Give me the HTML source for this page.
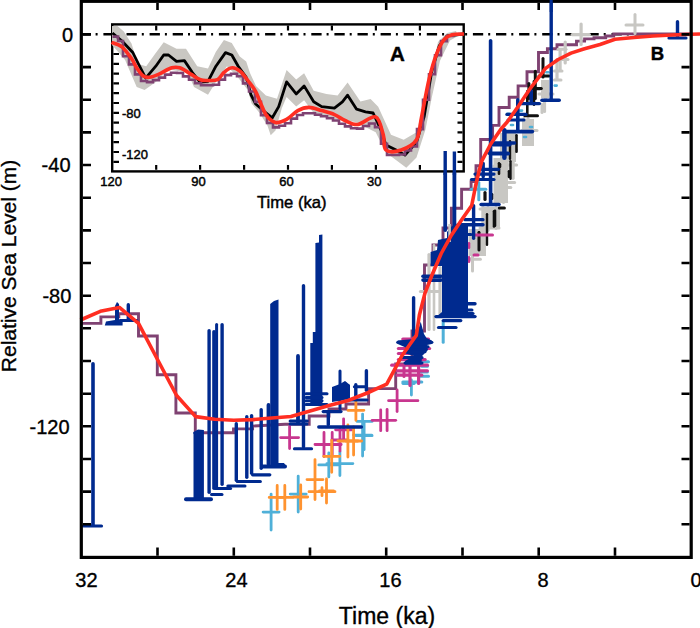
<!DOCTYPE html><html><head><meta charset="utf-8"><style>html,body{margin:0;padding:0;background:#fff;width:700px;height:628px;overflow:hidden;position:relative}</style></head><body><svg width="700" height="628" viewBox="0 0 700 628" style="position:absolute;left:0;top:0">
<rect width="700" height="628" fill="#fff"/>
<line x1="463" y1="34.3" x2="691" y2="34.3" stroke="#000" stroke-width="2.6" stroke-dasharray="10.3 5 2 5.8" stroke-dashoffset="13.2"/>
<polyline points="80.0,323.4 100.9,323.4 100.9,316.9 118.8,316.9 118.8,313.8 138.5,313.8 138.5,336.0 157.3,336.0 157.3,374.8 175.9,374.8 175.9,413.0 195.3,413.0 195.3,432.7 233.5,432.7 233.5,428.9 252.6,428.9 252.6,426.1 285.0,424.3 309.2,424.3 309.2,416.0 329.0,416.0 329.0,409.0 346.0,409.0 346.0,404.0 368.6,404.0 368.6,388.6 395.7,388.6 395.7,364.0 412.0,364.0 412.0,331.0 424.5,331.0 424.5,265.0 433.0,265.0 433.0,245.0 443.0,245.0 443.0,228.0 451.4,228.0 451.4,208.3 461.6,208.3 461.6,189.2 471.1,189.2 471.1,181.6 476.0,181.6 476.0,165.7 480.7,165.7 480.7,139.5 492.6,139.5 492.6,125.4 499.0,125.4 499.0,107.5 509.2,107.5 509.2,97.3 518.1,97.3 518.1,85.9 527.0,85.9 527.0,71.8 538.5,71.8 538.5,52.5 547.4,52.5 547.4,48.7 557.0,48.7 557.0,44.8 576.5,44.8 576.5,41.1 584.6,41.1 584.6,38.9 594.0,38.9 594.0,37.7 605.7,37.7 605.7,36.0 613.7,36.0 613.7,33.9 691.0,33.9" fill="none" stroke="#7f4272" stroke-width="2.9"/>
<rect x="470.2" y="229.3" width="15.3" height="21.7" fill="#c8c7c3"/>
<rect x="493.5" y="158" width="14.5" height="45.0" fill="#c8c7c3"/>
<rect x="482" y="207" width="18.0" height="21.0" fill="#c8c7c3"/>
<rect x="468.5" y="229" width="17.5" height="27.0" fill="#c8c7c3"/>
<rect x="500" y="133" width="16.0" height="27.0" fill="#c8c7c3"/>
<rect x="522" y="119" width="12.0" height="27.0" fill="#c8c7c3"/>
<rect x="503" y="133" width="13.0" height="29.0" fill="#c8c7c3"/>
<rect x="541" y="80" width="8.0" height="18.0" fill="#c8c7c3"/>
<line x1="429" y1="254.6" x2="429" y2="329.4" stroke="#c8c7c3" stroke-width="3.2" stroke-linecap="round"/>
<line x1="434" y1="245.3" x2="434" y2="329.7" stroke="#c8c7c3" stroke-width="2.6" stroke-linecap="round"/>
<line x1="440" y1="267.6" x2="440" y2="316.4" stroke="#c8c7c3" stroke-width="3.2" stroke-linecap="round"/>
<line x1="420.4" y1="291.6" x2="439.5" y2="291.6" stroke="#c8c7c3" stroke-width="3" stroke-linecap="round"/>
<line x1="472.5" y1="244.5" x2="472.5" y2="271.1" stroke="#c8c7c3" stroke-width="3" stroke-linecap="round"/>
<line x1="469" y1="259.2" x2="480.4" y2="259.2" stroke="#c8c7c3" stroke-width="3" stroke-linecap="round"/>
<line x1="483" y1="207.7" x2="483" y2="228.3" stroke="#c8c7c3" stroke-width="3.4" stroke-linecap="round"/>
<line x1="488" y1="207.7" x2="488" y2="230.3" stroke="#c8c7c3" stroke-width="3.4" stroke-linecap="round"/>
<line x1="496" y1="207.7" x2="496" y2="228.3" stroke="#c8c7c3" stroke-width="3.4" stroke-linecap="round"/>
<line x1="480" y1="209" x2="499" y2="209" stroke="#c8c7c3" stroke-width="3" stroke-linecap="round"/>
<line x1="480" y1="228" x2="499" y2="228" stroke="#c8c7c3" stroke-width="3" stroke-linecap="round"/>
<line x1="497" y1="161.7" x2="497" y2="202.3" stroke="#c8c7c3" stroke-width="3.4" stroke-linecap="round"/>
<line x1="503.5" y1="161.7" x2="503.5" y2="202.3" stroke="#c8c7c3" stroke-width="3.4" stroke-linecap="round"/>
<line x1="494" y1="166" x2="507" y2="166" stroke="#c8c7c3" stroke-width="3" stroke-linecap="round"/>
<line x1="499.3" y1="182.5" x2="514.6" y2="182.5" stroke="#c8c7c3" stroke-width="3" stroke-linecap="round"/>
<line x1="499.3" y1="187.5" x2="510.8" y2="187.5" stroke="#c8c7c3" stroke-width="3" stroke-linecap="round"/>
<line x1="528" y1="118.7" x2="528" y2="143.3" stroke="#c8c7c3" stroke-width="3.4" stroke-linecap="round"/>
<line x1="524" y1="118.5" x2="524" y2="138.5" stroke="#c8c7c3" stroke-width="3" stroke-linecap="round"/>
<line x1="522" y1="130.6" x2="537" y2="130.6" stroke="#c8c7c3" stroke-width="3" stroke-linecap="round"/>
<line x1="544.5" y1="102.6" x2="544.5" y2="111.4" stroke="#c8c7c3" stroke-width="3.2" stroke-linecap="round"/>
<line x1="507" y1="134.7" x2="507" y2="178.3" stroke="#c8c7c3" stroke-width="3.4" stroke-linecap="round"/>
<line x1="513" y1="134.7" x2="513" y2="178.3" stroke="#c8c7c3" stroke-width="3.4" stroke-linecap="round"/>
<line x1="503.8" y1="150" x2="516.6" y2="150" stroke="#c8c7c3" stroke-width="3" stroke-linecap="round"/>
<line x1="503.8" y1="165" x2="516.6" y2="165" stroke="#c8c7c3" stroke-width="3" stroke-linecap="round"/>
<line x1="545.5" y1="81.7" x2="545.5" y2="98.3" stroke="#c8c7c3" stroke-width="3.4" stroke-linecap="round"/>
<line x1="539" y1="93.9" x2="553" y2="93.9" stroke="#c8c7c3" stroke-width="3" stroke-linecap="round"/>
<line x1="542" y1="104.5" x2="542" y2="112.5" stroke="#c8c7c3" stroke-width="3" stroke-linecap="round"/>
<line x1="581.1" y1="24.1" x2="581.1" y2="44.5" stroke="#c8c7c3" stroke-width="3.2" stroke-linecap="round"/>
<line x1="572.2" y1="34.6" x2="589.4" y2="34.6" stroke="#c8c7c3" stroke-width="3.2" stroke-linecap="round"/>
<line x1="565.2" y1="42.0" x2="565.2" y2="63.0" stroke="#c8c7c3" stroke-width="3.2" stroke-linecap="round"/>
<line x1="558" y1="59.5" x2="568" y2="59.5" stroke="#c8c7c3" stroke-width="3" stroke-linecap="round"/>
<line x1="558" y1="49.3" x2="566" y2="49.3" stroke="#c8c7c3" stroke-width="3" stroke-linecap="round"/>
<line x1="560.1" y1="49.6" x2="560.1" y2="69.4" stroke="#c8c7c3" stroke-width="3.2" stroke-linecap="round"/>
<line x1="557" y1="59.6" x2="557" y2="79.4" stroke="#c8c7c3" stroke-width="3.2" stroke-linecap="round"/>
<line x1="554.4" y1="71" x2="562" y2="71" stroke="#c8c7c3" stroke-width="3" stroke-linecap="round"/>
<line x1="554.4" y1="80" x2="561" y2="80" stroke="#c8c7c3" stroke-width="3" stroke-linecap="round"/>
<line x1="635" y1="14.5" x2="635" y2="33.5" stroke="#c8c7c3" stroke-width="3" stroke-linecap="round"/>
<line x1="626" y1="25" x2="643" y2="25" stroke="#c8c7c3" stroke-width="3" stroke-linecap="round"/>
<line x1="527.3" y1="91.3" x2="527.3" y2="115.7" stroke="#111" stroke-width="2.6" stroke-linecap="round"/>
<line x1="534" y1="81.3" x2="534" y2="104.7" stroke="#111" stroke-width="2.6" stroke-linecap="round"/>
<line x1="524.8" y1="115.7" x2="537.5" y2="115.7" stroke="#111" stroke-width="3" stroke-linecap="round"/>
<line x1="533.7" y1="88.5" x2="541.3" y2="88.5" stroke="#111" stroke-width="3" stroke-linecap="round"/>
<line x1="543" y1="58.5" x2="543" y2="77.1" stroke="#111" stroke-width="3" stroke-linecap="round"/>
<line x1="539" y1="76" x2="549" y2="76" stroke="#111" stroke-width="3" stroke-linecap="round"/>
<line x1="535.3" y1="71.2" x2="535.3" y2="98.5" stroke="#111" stroke-width="3" stroke-linecap="round"/>
<line x1="528.9" y1="83.5" x2="528.9" y2="98.5" stroke="#111" stroke-width="3" stroke-linecap="round"/>
<line x1="530" y1="88.8" x2="540" y2="88.8" stroke="#111" stroke-width="3" stroke-linecap="round"/>
<line x1="516.5" y1="135.3" x2="516.5" y2="151.7" stroke="#111" stroke-width="2.6" stroke-linecap="round"/>
<line x1="509" y1="171.3" x2="509" y2="176.7" stroke="#111" stroke-width="2.6" stroke-linecap="round"/>
<line x1="500" y1="164.3" x2="500" y2="166.7" stroke="#111" stroke-width="2.6" stroke-linecap="round"/>
<line x1="509.3" y1="172.9" x2="509.3" y2="176.7" stroke="#111" stroke-width="2.6" stroke-linecap="round"/>
<line x1="485" y1="192.6" x2="485" y2="199.4" stroke="#111" stroke-width="3.2" stroke-linecap="round"/>
<line x1="495" y1="210.8" x2="495" y2="225.7" stroke="#111" stroke-width="2.6" stroke-linecap="round"/>
<line x1="479" y1="232.3" x2="479" y2="250.3" stroke="#111" stroke-width="2.6" stroke-linecap="round"/>
<line x1="499" y1="163.3" x2="499" y2="173.7" stroke="#111" stroke-width="2.6" stroke-linecap="round"/>
<line x1="510.5" y1="161.2" x2="510.5" y2="178.8" stroke="#111" stroke-width="2.4" stroke-linecap="round"/>
<line x1="494" y1="211.3" x2="494" y2="226.4" stroke="#111" stroke-width="2.6" stroke-linecap="round"/>
<line x1="499.3" y1="208" x2="504.4" y2="208" stroke="#111" stroke-width="3" stroke-linecap="round"/>
<line x1="487" y1="214.2" x2="487" y2="244.8" stroke="#111" stroke-width="2.4" stroke-linecap="round"/>
<line x1="479" y1="232.3" x2="479" y2="249.7" stroke="#111" stroke-width="2.6" stroke-linecap="round"/>
<line x1="510" y1="141.2" x2="510" y2="158.8" stroke="#111" stroke-width="2.4" stroke-linecap="round"/>
<line x1="492" y1="194.3" x2="492" y2="198.7" stroke="#111" stroke-width="2.6" stroke-linecap="round"/>
<line x1="478.8" y1="182.5" x2="478.8" y2="199.8" stroke="#4fb0d8" stroke-width="3" stroke-linecap="round"/>
<line x1="471.1" y1="189.2" x2="485.8" y2="189.2" stroke="#4fb0d8" stroke-width="3" stroke-linecap="round"/>
<line x1="443.2" y1="321.5" x2="443.2" y2="342.2" stroke="#4fb0d8" stroke-width="3" stroke-linecap="round"/>
<line x1="507.2" y1="113.8" x2="509.2" y2="113.8" stroke="#4fb0d8" stroke-width="2.6" stroke-linecap="round"/>
<line x1="520" y1="110.6" x2="522" y2="110.6" stroke="#4fb0d8" stroke-width="2.6" stroke-linecap="round"/>
<line x1="530" y1="127" x2="532" y2="127" stroke="#4fb0d8" stroke-width="2.6" stroke-linecap="round"/>
<line x1="546.4" y1="72.2" x2="548.4" y2="72.2" stroke="#4fb0d8" stroke-width="2.6" stroke-linecap="round"/>
<line x1="554.7" y1="85.6" x2="556.7" y2="85.6" stroke="#4fb0d8" stroke-width="2.6" stroke-linecap="round"/>
<line x1="524" y1="137" x2="526" y2="137" stroke="#4fb0d8" stroke-width="2.6" stroke-linecap="round"/>
<line x1="511" y1="125" x2="513" y2="125" stroke="#4fb0d8" stroke-width="2.6" stroke-linecap="round"/>
<line x1="411.4" y1="380.0" x2="411.4" y2="395.0" stroke="#4fb0d8" stroke-width="2.8" stroke-linecap="round"/>
<line x1="402.9" y1="383.6" x2="414.3" y2="383.6" stroke="#4fb0d8" stroke-width="2.8" stroke-linecap="round"/>
<line x1="423" y1="361.8" x2="428.5" y2="361.8" stroke="#4fb0d8" stroke-width="3" stroke-linecap="round"/>
<line x1="421.8" y1="366.3" x2="427.4" y2="366.3" stroke="#4fb0d8" stroke-width="3" stroke-linecap="round"/>
<line x1="420.7" y1="371.9" x2="427.4" y2="371.9" stroke="#4fb0d8" stroke-width="3" stroke-linecap="round"/>
<line x1="419.6" y1="376.3" x2="428.5" y2="376.3" stroke="#4fb0d8" stroke-width="3" stroke-linecap="round"/>
<line x1="402.8" y1="382" x2="421.8" y2="382" stroke="#4fb0d8" stroke-width="3" stroke-linecap="round"/>
<line x1="357.1" y1="421.4" x2="372.1" y2="421.4" stroke="#4fb0d8" stroke-width="2.8" stroke-linecap="round"/>
<path d="M263.1 512.1H279.1M271.1 494.1V530.1" stroke="#4fb0d8" stroke-width="2.8" stroke-linecap="round" fill="none"/>
<path d="M290.2 494.1H306.2M298.2 476.1V512.1" stroke="#4fb0d8" stroke-width="2.8" stroke-linecap="round" fill="none"/>
<path d="M318.8 464.9H338.8M328.8 452.9V476.9" stroke="#4fb0d8" stroke-width="2.8" stroke-linecap="round" fill="none"/>
<path d="M326.9 463.6H352.9M339.9 451.6V475.6" stroke="#4fb0d8" stroke-width="2.8" stroke-linecap="round" fill="none"/>
<path d="M353.6 435.1H371.6M362.6 414.1V456.1" stroke="#4fb0d8" stroke-width="2.8" stroke-linecap="round" fill="none"/>
<path d="M356.1 435.7H372.1M364.1 421.7V449.7" stroke="#4fb0d8" stroke-width="2.8" stroke-linecap="round" fill="none"/>
<line x1="474" y1="235" x2="492.5" y2="235" stroke="#c8368f" stroke-width="3" stroke-linecap="round"/>
<line x1="469" y1="243.3" x2="469" y2="247.7" stroke="#c8368f" stroke-width="2.6" stroke-linecap="round"/>
<line x1="469" y1="257.3" x2="469" y2="261.7" stroke="#c8368f" stroke-width="2.6" stroke-linecap="round"/>
<line x1="474" y1="255" x2="478" y2="255" stroke="#c8368f" stroke-width="3" stroke-linecap="round"/>
<line x1="402.8" y1="339" x2="428.5" y2="339" stroke="#c8368f" stroke-width="3.2" stroke-linecap="round"/>
<line x1="398.4" y1="348.5" x2="429.6" y2="348.5" stroke="#c8368f" stroke-width="3.2" stroke-linecap="round"/>
<line x1="398.4" y1="353.5" x2="411.8" y2="353.5" stroke="#c8368f" stroke-width="3.2" stroke-linecap="round"/>
<line x1="398.4" y1="359.6" x2="425.1" y2="359.6" stroke="#c8368f" stroke-width="3.2" stroke-linecap="round"/>
<line x1="391.7" y1="365.2" x2="427.4" y2="365.2" stroke="#c8368f" stroke-width="3.2" stroke-linecap="round"/>
<line x1="397.3" y1="370.8" x2="427.4" y2="370.8" stroke="#c8368f" stroke-width="3.2" stroke-linecap="round"/>
<line x1="397.3" y1="375.2" x2="421.8" y2="375.2" stroke="#c8368f" stroke-width="3.2" stroke-linecap="round"/>
<line x1="410" y1="366.6" x2="410" y2="385.4" stroke="#c8368f" stroke-width="3.2" stroke-linecap="round"/>
<line x1="418.6" y1="366.6" x2="418.6" y2="383.4" stroke="#c8368f" stroke-width="3.2" stroke-linecap="round"/>
<line x1="404" y1="366.5" x2="404" y2="376.5" stroke="#c8368f" stroke-width="3" stroke-linecap="round"/>
<line x1="380.7" y1="410.0" x2="380.7" y2="430.7" stroke="#c8368f" stroke-width="2.8" stroke-linecap="round"/>
<line x1="387.1" y1="409.4" x2="387.1" y2="430.7" stroke="#c8368f" stroke-width="2.8" stroke-linecap="round"/>
<line x1="372.1" y1="420.3" x2="395.7" y2="420.3" stroke="#c8368f" stroke-width="2.8" stroke-linecap="round"/>
<line x1="397.1" y1="390.0" x2="397.1" y2="411.5" stroke="#c8368f" stroke-width="2.8" stroke-linecap="round"/>
<line x1="388.6" y1="400.7" x2="417.9" y2="400.7" stroke="#c8368f" stroke-width="2.8" stroke-linecap="round"/>
<path d="M280.6 437.6H298.6M289.6 426.6V448.6" stroke="#c8368f" stroke-width="2.8" stroke-linecap="round" fill="none"/>
<path d="M315.0 444.5H333.0M324.0 432.5V456.5" stroke="#c8368f" stroke-width="2.8" stroke-linecap="round" fill="none"/>
<path d="M323.2 444.5H341.2M332.2 432.5V456.5" stroke="#c8368f" stroke-width="2.8" stroke-linecap="round" fill="none"/>
<path d="M332.0 440.0H348.0M340.0 429.0V451.0" stroke="#c8368f" stroke-width="2.8" stroke-linecap="round" fill="none"/>
<path d="M335.6 429.8H351.6M343.6 418.8V440.8" stroke="#c8368f" stroke-width="2.8" stroke-linecap="round" fill="none"/>
<path d="M269.2 497.4H285.2M277.2 485.4V509.4" stroke="#ff9330" stroke-width="2.8" stroke-linecap="round" fill="none"/>
<path d="M276.8 497.4H292.8M284.8 485.4V509.4" stroke="#ff9330" stroke-width="2.8" stroke-linecap="round" fill="none"/>
<path d="M293.7 497.0H307.7M300.7 485.0V509.0" stroke="#ff9330" stroke-width="2.8" stroke-linecap="round" fill="none"/>
<path d="M307.0 479.6H323.0M315.0 459.6V499.6" stroke="#ff9330" stroke-width="2.8" stroke-linecap="round" fill="none"/>
<path d="M309.0 491.7H335.0M322.0 487.7V495.7" stroke="#ff9330" stroke-width="2.8" stroke-linecap="round" fill="none"/>
<path d="M319.5 491.0H333.5M326.5 479.0V503.0" stroke="#ff9330" stroke-width="2.8" stroke-linecap="round" fill="none"/>
<path d="M323.7 456.3H339.7M331.7 440.3V472.3" stroke="#ff9330" stroke-width="2.8" stroke-linecap="round" fill="none"/>
<path d="M337.9 441.0H357.9M347.9 425.0V457.0" stroke="#ff9330" stroke-width="2.8" stroke-linecap="round" fill="none"/>
<path d="M345.6 441.0H361.6M353.6 427.0V455.0" stroke="#ff9330" stroke-width="2.8" stroke-linecap="round" fill="none"/>
<path d="M347.9 410.3H363.9M355.9 400.3V420.3" stroke="#ff9330" stroke-width="2.8" stroke-linecap="round" fill="none"/>
<rect x="193.5" y="432" width="10.4" height="67.0" fill="#002a8f"/>
<polygon points="115.0,306.0 117.0,302.0 119.0,304.0 119.0,321.0 122.6,322.0 122.6,325.5 104.8,325.5 106.0,321.5 115.0,320.0" fill="#002a8f"/>
<polygon points="193.5,432.0 198.0,429.5 203.9,430.0 203.9,434.0 193.5,434.0" fill="#002a8f"/>
<polygon points="270.2,304.0 274.0,301.0 278.5,299.5 278.5,463.0 284.0,463.0 286.0,466.0 270.2,468.0" fill="#002a8f"/>
<polygon points="310.3,343.0 312.8,343.0 312.8,332.0 315.4,332.0 315.4,243.0 319.0,242.5 319.0,235.0 322.4,234.5 322.4,403.0 310.3,403.0" fill="#002a8f"/>
<polygon points="332.0,387.0 340.0,384.0 345.0,381.0 350.0,385.0 350.0,399.0 332.0,402.0" fill="#002a8f"/>
<polygon points="447.0,232.0 452.0,226.0 458.0,223.0 468.0,223.0 468.0,317.0 436.0,317.0 442.0,312.0 442.0,266.0 430.6,266.0 430.6,252.0 437.0,250.0 438.0,240.0 447.0,238.0" fill="#002a8f"/>
<polygon points="420.7,321.7 424.0,334.0 426.5,338.0 431.8,340.5 431.8,344.0 427.0,345.0 428.0,350.0 425.0,353.0 422.0,356.0 421.5,364.5 405.0,364.5 405.0,361.0 414.0,356.0 404.0,353.0 409.0,349.0 397.8,344.0 397.8,340.5 414.0,339.0 417.0,334.0" fill="#002a8f"/>
<line x1="93" y1="363.8" x2="93" y2="524.2" stroke="#002a8f" stroke-width="3.6" stroke-linecap="round"/>
<line x1="83.5" y1="526" x2="101.5" y2="526" stroke="#002a8f" stroke-width="3.2" stroke-linecap="round"/>
<line x1="128.3" y1="304.7" x2="128.3" y2="318.3" stroke="#002a8f" stroke-width="3.4" stroke-linecap="round"/>
<line x1="120" y1="320.5" x2="136.6" y2="320.5" stroke="#002a8f" stroke-width="3" stroke-linecap="round"/>
<line x1="209.1" y1="330.7" x2="209.1" y2="492.3" stroke="#002a8f" stroke-width="3.4" stroke-linecap="round"/>
<line x1="214" y1="331.8" x2="214" y2="488.2" stroke="#002a8f" stroke-width="3.6" stroke-linecap="round"/>
<line x1="216.6" y1="324.5" x2="216.6" y2="486.5" stroke="#002a8f" stroke-width="3.0" stroke-linecap="round"/>
<line x1="222.1" y1="324.7" x2="222.1" y2="484.3" stroke="#002a8f" stroke-width="3.4" stroke-linecap="round"/>
<line x1="186" y1="499.3" x2="211" y2="499.3" stroke="#002a8f" stroke-width="4" stroke-linecap="round"/>
<line x1="211.5" y1="494.5" x2="222" y2="494.5" stroke="#002a8f" stroke-width="3" stroke-linecap="round"/>
<line x1="215.4" y1="488.5" x2="230.6" y2="488.5" stroke="#002a8f" stroke-width="3" stroke-linecap="round"/>
<line x1="227.8" y1="486" x2="245" y2="486" stroke="#002a8f" stroke-width="3" stroke-linecap="round"/>
<line x1="236.3" y1="423.7" x2="236.3" y2="480.3" stroke="#002a8f" stroke-width="3.4" stroke-linecap="round"/>
<line x1="246.8" y1="416.7" x2="246.8" y2="477.3" stroke="#002a8f" stroke-width="3.4" stroke-linecap="round"/>
<line x1="251.6" y1="415.7" x2="251.6" y2="473.3" stroke="#002a8f" stroke-width="3.4" stroke-linecap="round"/>
<line x1="261.2" y1="409.7" x2="261.2" y2="468.3" stroke="#002a8f" stroke-width="3.4" stroke-linecap="round"/>
<line x1="237.3" y1="481.5" x2="260.3" y2="481.5" stroke="#002a8f" stroke-width="3.2" stroke-linecap="round"/>
<line x1="252.6" y1="474.8" x2="269.8" y2="474.8" stroke="#002a8f" stroke-width="3.2" stroke-linecap="round"/>
<line x1="262.2" y1="466.5" x2="285" y2="466.5" stroke="#002a8f" stroke-width="4" stroke-linecap="round"/>
<line x1="298" y1="355.9" x2="298" y2="423.1" stroke="#002a8f" stroke-width="3.8" stroke-linecap="round"/>
<line x1="268.5" y1="404.9" x2="268.5" y2="464.1" stroke="#002a8f" stroke-width="3.8" stroke-linecap="round"/>
<line x1="303.5" y1="285.7" x2="303.5" y2="446.8" stroke="#002a8f" stroke-width="3.4" stroke-linecap="round"/>
<line x1="294.4" y1="448.7" x2="311.6" y2="448.7" stroke="#002a8f" stroke-width="3" stroke-linecap="round"/>
<line x1="306" y1="393.8" x2="327" y2="393.8" stroke="#002a8f" stroke-width="3" stroke-linecap="round"/>
<line x1="306" y1="397.5" x2="322" y2="397.5" stroke="#002a8f" stroke-width="3" stroke-linecap="round"/>
<line x1="306" y1="400.8" x2="322" y2="400.8" stroke="#002a8f" stroke-width="3" stroke-linecap="round"/>
<line x1="306" y1="404.6" x2="327" y2="404.6" stroke="#002a8f" stroke-width="3" stroke-linecap="round"/>
<line x1="340" y1="371.1" x2="340" y2="408.5" stroke="#002a8f" stroke-width="3.0" stroke-linecap="round"/>
<line x1="348" y1="400" x2="367" y2="400" stroke="#002a8f" stroke-width="3.2" stroke-linecap="round"/>
<line x1="345" y1="383.4" x2="345" y2="388.3" stroke="#002a8f" stroke-width="3.4" stroke-linecap="round"/>
<line x1="348" y1="385.7" x2="348" y2="388.3" stroke="#002a8f" stroke-width="3.4" stroke-linecap="round"/>
<line x1="355.8" y1="384.7" x2="355.8" y2="398.3" stroke="#002a8f" stroke-width="3.4" stroke-linecap="round"/>
<line x1="354.4" y1="386.8" x2="365" y2="386.8" stroke="#002a8f" stroke-width="3" stroke-linecap="round"/>
<line x1="366.4" y1="370.7" x2="366.4" y2="390.3" stroke="#002a8f" stroke-width="3.4" stroke-linecap="round"/>
<line x1="323.2" y1="411.6" x2="341" y2="411.6" stroke="#002a8f" stroke-width="3.2" stroke-linecap="round"/>
<line x1="328.3" y1="413.3" x2="328.3" y2="424.5" stroke="#002a8f" stroke-width="3.4" stroke-linecap="round"/>
<line x1="318.8" y1="427" x2="361.4" y2="427" stroke="#002a8f" stroke-width="3.4" stroke-linecap="round"/>
<line x1="290.1" y1="421.1" x2="307.3" y2="421.1" stroke="#002a8f" stroke-width="3" stroke-linecap="round"/>
<line x1="290.1" y1="423.9" x2="307" y2="423.9" stroke="#002a8f" stroke-width="3" stroke-linecap="round"/>
<line x1="413.6" y1="297.7" x2="413.6" y2="335.3" stroke="#002a8f" stroke-width="3.4" stroke-linecap="round"/>
<line x1="423" y1="276.3" x2="441" y2="276.3" stroke="#002a8f" stroke-width="3.6" stroke-linecap="round"/>
<line x1="423" y1="280.1" x2="441" y2="280.1" stroke="#002a8f" stroke-width="3.6" stroke-linecap="round"/>
<line x1="450" y1="303.7" x2="475" y2="303.7" stroke="#002a8f" stroke-width="3.4" stroke-linecap="round"/>
<line x1="450" y1="310" x2="472" y2="310" stroke="#002a8f" stroke-width="3" stroke-linecap="round"/>
<line x1="450" y1="313.5" x2="473" y2="313.5" stroke="#002a8f" stroke-width="3.2" stroke-linecap="round"/>
<line x1="436" y1="316.6" x2="475" y2="316.6" stroke="#002a8f" stroke-width="3.4" stroke-linecap="round"/>
<line x1="443.2" y1="320.6" x2="460.8" y2="320.6" stroke="#002a8f" stroke-width="3.2" stroke-linecap="round"/>
<line x1="438.5" y1="327.5" x2="456" y2="327.5" stroke="#002a8f" stroke-width="3.2" stroke-linecap="round"/>
<line x1="445.2" y1="172.9" x2="445.2" y2="230.1" stroke="#002a8f" stroke-width="3.8" stroke-linecap="round"/>
<line x1="454.4" y1="172.9" x2="454.4" y2="230.1" stroke="#002a8f" stroke-width="3.8" stroke-linecap="round"/>
<line x1="473.6" y1="205.7" x2="473.6" y2="238.3" stroke="#002a8f" stroke-width="3.4" stroke-linecap="round"/>
<line x1="465" y1="219.7" x2="483" y2="219.7" stroke="#002a8f" stroke-width="3.2" stroke-linecap="round"/>
<line x1="460" y1="224.8" x2="483" y2="224.8" stroke="#002a8f" stroke-width="3.4" stroke-linecap="round"/>
<line x1="463.5" y1="234.4" x2="471" y2="234.4" stroke="#002a8f" stroke-width="3" stroke-linecap="round"/>
<line x1="490.6" y1="40.8" x2="490.6" y2="203.2" stroke="#002a8f" stroke-width="3.6" stroke-linecap="round"/>
<line x1="481.1" y1="204.5" x2="499" y2="204.5" stroke="#002a8f" stroke-width="3.6" stroke-linecap="round"/>
<line x1="482" y1="169.3" x2="498.5" y2="169.3" stroke="#002a8f" stroke-width="3.2" stroke-linecap="round"/>
<line x1="475" y1="174.1" x2="494" y2="174.1" stroke="#002a8f" stroke-width="3.2" stroke-linecap="round"/>
<line x1="471.5" y1="179.5" x2="494" y2="179.5" stroke="#002a8f" stroke-width="3.2" stroke-linecap="round"/>
<line x1="483.2" y1="163.5" x2="483.2" y2="176.7" stroke="#002a8f" stroke-width="3.4" stroke-linecap="round"/>
<line x1="489" y1="153.2" x2="508.2" y2="153.2" stroke="#002a8f" stroke-width="3.4" stroke-linecap="round"/>
<line x1="493" y1="144.8" x2="510" y2="144.8" stroke="#002a8f" stroke-width="3.2" stroke-linecap="round"/>
<line x1="517.8" y1="99.8" x2="517.8" y2="130.2" stroke="#002a8f" stroke-width="3.6" stroke-linecap="round"/>
<line x1="521" y1="103.6" x2="539.4" y2="103.6" stroke="#002a8f" stroke-width="3.4" stroke-linecap="round"/>
<line x1="507" y1="114.4" x2="526" y2="114.4" stroke="#002a8f" stroke-width="3.4" stroke-linecap="round"/>
<line x1="508" y1="120" x2="524" y2="120" stroke="#002a8f" stroke-width="3" stroke-linecap="round"/>
<line x1="505.7" y1="131.6" x2="532.4" y2="131.6" stroke="#002a8f" stroke-width="3.6" stroke-linecap="round"/>
<line x1="504.4" y1="130.2" x2="504.4" y2="157.8" stroke="#002a8f" stroke-width="4.5" stroke-linecap="round"/>
<line x1="493" y1="143" x2="514.6" y2="143" stroke="#002a8f" stroke-width="3.4" stroke-linecap="round"/>
<line x1="491.7" y1="153.9" x2="508.2" y2="153.9" stroke="#002a8f" stroke-width="3.4" stroke-linecap="round"/>
<line x1="531.2" y1="90.8" x2="531.2" y2="103.2" stroke="#002a8f" stroke-width="3.6" stroke-linecap="round"/>
<line x1="551.2" y1="1.7" x2="551.2" y2="98.8" stroke="#002a8f" stroke-width="3.4" stroke-linecap="round"/>
<line x1="542" y1="100.3" x2="559.2" y2="100.3" stroke="#002a8f" stroke-width="3.6" stroke-linecap="round"/>
<line x1="677.5" y1="21.7" x2="677.5" y2="36.3" stroke="#002a8f" stroke-width="3.4" stroke-linecap="round"/>
<line x1="669" y1="38" x2="686" y2="38" stroke="#002a8f" stroke-width="3.2" stroke-linecap="round"/>
<line x1="397.8" y1="342.3" x2="431.8" y2="342.3" stroke="#002a8f" stroke-width="3.2" stroke-linecap="round"/>
<line x1="414" y1="346.8" x2="428" y2="346.8" stroke="#002a8f" stroke-width="3" stroke-linecap="round"/>
<line x1="405" y1="351.8" x2="425" y2="351.8" stroke="#002a8f" stroke-width="3" stroke-linecap="round"/>
<line x1="403" y1="357.4" x2="422" y2="357.4" stroke="#002a8f" stroke-width="3" stroke-linecap="round"/>
<line x1="405" y1="363" x2="422" y2="363" stroke="#002a8f" stroke-width="3" stroke-linecap="round"/>
<line x1="449.6" y1="224" x2="449.6" y2="242" stroke="#c8c7c3" stroke-width="2.6"/>
<polyline points="80.4,320.0 100.3,311.3 119.4,307.4 138.5,323.3 157.5,359.5 176.6,395.5 195.6,416.6 214.7,419.2 233.8,420.2 252.8,419.6 271.9,418.0 290.9,416.5 310.0,411.0 329.1,405.5 348.1,400.5 367.2,393.0 386.7,384.1 401.8,356.0 409.8,344.5 416.3,335.4 419.4,315.0 424.9,293.4 431.6,276.0 441.2,253.5 450.7,236.3 462.2,219.1 471.7,205.5 475.6,186.0 478.8,172.0 482.0,160.6 490.7,144.0 501.0,129.0 507.2,122.0 518.7,105.8 529.7,89.2 536.8,80.0 545.5,68.4 558.2,59.5 571.0,53.1 583.7,49.0 600.0,44.5 615.0,39.3 634.0,37.5 653.1,36.0 672.1,35.0 691.2,34.2 700.0,34.0" fill="none" stroke="#ff2e22" stroke-width="3.6" stroke-linejoin="round"/>
<rect x="112.2" y="24.4" width="351.5" height="146.6" fill="#fff"/>
<line x1="81.2" y1="34.3" x2="463" y2="34.3" stroke="#000" stroke-width="2.6" stroke-dasharray="10.3 5 2 5.8" stroke-dashoffset="0.9"/>
<rect x="112.2" y="24.4" width="351.5" height="147" fill="none" stroke="#000" stroke-width="2.4"/>
<path d="M113.4 34.4H119M457.5 34.4H462.5M113.4 44.2H119M457.5 44.2H462.5M113.4 54.0H119M457.5 54.0H462.5M113.4 63.8H119M457.5 63.8H462.5M113.4 73.6H119M457.5 73.6H462.5M113.4 83.4H119M457.5 83.4H462.5M113.4 93.2H119M457.5 93.2H462.5M113.4 103.0H119M457.5 103.0H462.5M113.4 112.8H119M457.5 112.8H462.5M113.4 122.6H119M457.5 122.6H462.5M113.4 132.4H119M457.5 132.4H462.5M113.4 142.2H119M457.5 142.2H462.5M113.4 152.0H119M457.5 152.0H462.5M113.4 161.8H119M457.5 161.8H462.5M156.2 25.6V30.5M156.2 169.8V165M200.1 25.6V30.5M200.1 169.8V165M244.1 25.6V30.5M244.1 169.8V165M288.0 25.6V30.5M288.0 169.8V165M331.9 25.6V30.5M331.9 169.8V165M375.9 25.6V30.5M375.9 169.8V165M419.9 25.6V30.5M419.9 169.8V165" stroke="#000" stroke-width="2.2" fill="none"/>
<polygon points="112.0,26.0 117.5,26.0 123.8,31.5 131.5,43.6 136.6,60.0 139.8,64.6 146.2,66.2 155.0,54.0 163.7,42.3 176.5,48.7 186.0,48.7 197.2,66.2 208.0,68.6 215.9,51.8 223.9,39.9 231.8,43.1 239.8,56.6 246.2,61.4 250.0,73.0 256.0,86.0 265.9,95.5 277.0,98.7 286.6,70.0 296.2,79.6 304.1,73.2 313.7,90.7 326.4,93.9 337.6,95.5 347.6,82.5 360.4,101.6 370.6,99.0 378.2,106.7 391.0,134.7 403.7,139.8 416.5,132.2 428.5,86.3 438.0,42.0 447.1,33.0 456.0,31.0 458.0,36.0 450.0,40.4 440.0,60.8 432.0,96.5 425.5,129.6 416.5,157.6 406.3,167.8 385.9,152.6 375.7,132.2 355.3,122.0 337.6,119.4 326.4,117.8 313.7,113.0 304.1,100.3 296.2,106.6 286.6,97.1 281.8,108.2 275.5,130.5 270.7,135.3 267.5,125.7 259.6,113.0 251.6,103.4 247.8,90.1 236.6,75.7 227.0,66.2 215.9,82.1 208.0,94.8 194.0,86.9 187.6,72.5 168.5,69.4 155.8,82.1 144.6,90.1 136.7,86.9 125.1,60.0 115.6,49.0 112.0,45.0" fill="#c9c7c2"/>
<polyline points="112.4,33.0 122.0,41.0 132.8,52.5 138.0,63.0 145.7,78.1 155.8,66.2 163.7,55.0 168.5,55.0 176.5,61.4 184.4,60.6 192.4,72.5 200.0,82.1 208.0,81.3 215.9,66.2 225.5,52.6 231.8,55.0 238.2,66.2 246.2,77.3 251.0,94.8 255.7,104.0 263.7,111.0 272.3,117.8 278.7,106.6 286.6,81.9 296.2,93.9 304.1,85.9 313.7,101.8 321.7,106.6 334.4,108.2 342.4,101.8 347.6,95.2 356.6,109.2 365.5,111.8 373.1,113.0 380.8,129.6 385.9,144.9 396.1,150.0 405.0,155.1 416.5,142.4 424.1,116.9 431.8,71.0 439.4,45.5 447.1,35.8 464.0,34.0" fill="none" stroke="#000" stroke-width="2.8" stroke-linejoin="round"/>
<polyline points="112.5,36.6 118.1,36.6 118.1,41.0 123.0,41.0 123.0,47.0 123.0,56.2 129.0,56.2 129.0,64.4 135.0,64.4 135.0,74.4 141.0,74.4 141.0,81.0 147.0,81.0 147.0,82.1 153.0,82.1 153.0,80.1 159.0,80.1 159.0,77.6 165.0,77.6 165.0,74.6 171.0,74.6 171.0,72.8 177.0,72.8 177.0,73.0 183.0,73.0 183.0,76.4 189.0,76.4 189.0,79.8 195.0,79.8 195.0,83.3 201.0,83.3 201.0,85.1 207.0,85.1 207.0,85.3 213.0,85.3 213.0,84.8 219.0,84.8 219.0,79.6 225.0,79.6 225.0,75.1 231.0,75.1 231.0,73.7 237.0,73.7 237.0,76.2 243.0,76.2 243.0,83.4 249.0,83.4 249.0,91.5 255.0,91.5 255.0,101.9 261.0,101.9 261.0,115.3 267.0,115.3 267.0,123.0 273.0,123.0 273.0,127.4 279.0,127.4 279.0,125.7 285.0,125.7 285.0,123.3 291.0,123.3 291.0,118.6 297.0,118.6 297.0,115.0 303.0,115.0 303.0,113.2 309.0,113.2 309.0,113.2 315.0,113.2 315.0,114.7 321.0,114.7 321.0,116.3 327.0,116.3 327.0,118.2 333.0,118.2 333.0,120.5 339.0,120.5 339.0,123.8 345.0,123.8 345.0,126.4 351.0,126.4 351.0,128.3 357.0,128.3 357.0,128.6 363.0,128.6 363.0,126.0 369.0,126.0 369.0,123.5 375.0,123.5 375.0,127.3 381.0,127.3 381.0,143.8 387.0,143.8 387.0,155.0 393.0,155.0 393.0,155.0 399.0,155.0 399.0,154.5 405.0,154.5 405.0,150.5 411.0,150.5 411.0,146.5 417.0,146.5 417.0,129.1 423.0,129.1 423.0,99.7 429.0,99.7 429.0,74.3 435.0,74.3 435.0,55.3 441.0,55.3 441.0,41.1 447.0,41.1 447.0,36.0 453.0,36.0 453.0,34.5 459.0,34.5 459.0,34.1 462.0,34.1" fill="none" stroke="#7f4272" stroke-width="2.6"/>
<path d="M111.5 42.3C113.2 43.0 118.6 44.1 121.9 46.8C125.2 49.5 129.0 55.0 131.5 58.5C134.0 62.0 134.8 64.9 136.7 67.8C138.6 70.7 140.9 74.1 143.0 75.7C145.1 77.3 146.7 77.6 149.4 77.3C152.1 77.0 155.3 75.7 159.0 74.1C162.7 72.5 168.2 68.8 171.7 67.8C175.1 66.8 176.5 66.8 179.7 67.8C182.9 68.8 187.4 72.1 190.8 74.1C194.2 76.1 197.5 78.6 200.4 79.7C203.3 80.8 205.2 80.5 208.0 80.5C210.8 80.5 214.8 81.0 217.5 79.7C220.2 78.4 221.5 74.5 223.9 72.5C226.3 70.5 229.2 68.0 231.8 67.8C234.5 67.5 237.1 68.9 239.8 71.0C242.5 73.1 245.2 77.0 247.8 80.5C250.5 84.0 252.7 86.0 255.7 91.7C258.7 97.4 262.6 109.5 265.9 114.6C269.2 119.7 272.1 121.7 275.5 122.5C278.9 123.3 282.9 121.4 286.6 119.4C290.3 117.4 294.1 112.6 297.8 110.6C301.5 108.6 304.9 107.4 308.9 107.4C312.9 107.4 317.4 109.4 321.7 110.6C325.9 111.8 330.5 112.9 334.4 114.6C338.3 116.2 341.1 118.8 345.0 120.5C348.9 122.2 352.7 125.1 357.8 124.5C362.9 123.9 371.4 115.2 375.7 116.9C379.9 118.6 381.6 129.2 383.3 134.7C385.0 140.2 382.9 147.4 385.9 150.0C388.9 152.6 396.1 151.7 401.2 150.0C406.3 148.3 413.1 145.3 416.5 139.8C419.9 134.3 419.5 127.1 421.6 116.9C423.7 106.7 426.6 89.2 429.2 78.6C431.8 68.0 434.3 59.7 436.9 53.1C439.4 46.5 441.9 42.2 444.5 39.1C447.1 36.0 448.9 35.6 452.2 34.8C455.4 33.9 462.0 34.1 464.0 34.0" fill="none" stroke="#ff2e22" stroke-width="3.6" stroke-linejoin="round"/>
<line x1="445.2" y1="151" x2="445.2" y2="175" stroke="#002a8f" stroke-width="3.4"/><line x1="454.4" y1="151.5" x2="454.4" y2="175" stroke="#002a8f" stroke-width="3.4"/>
<rect x="81.3" y="1.3" width="609.9" height="556.1" fill="none" stroke="#000" stroke-width="3.2"/>
<path d="M82.9 34.4H91M681.5 34.4H689.6M82.9 67.1H91M681.5 67.1H689.6M82.9 99.7H91M681.5 99.7H689.6M82.9 132.4H91M681.5 132.4H689.6M82.9 165.0H91M681.5 165.0H689.6M82.9 197.7H91M681.5 197.7H689.6M82.9 230.4H91M681.5 230.4H689.6M82.9 263.0H91M681.5 263.0H689.6M82.9 295.7H91M681.5 295.7H689.6M82.9 328.3H91M681.5 328.3H689.6M82.9 361.0H91M681.5 361.0H689.6M82.9 393.7H91M681.5 393.7H689.6M82.9 426.3H91M681.5 426.3H689.6M82.9 459.0H91M681.5 459.0H689.6M82.9 491.6H91M681.5 491.6H689.6M82.9 524.3H91M681.5 524.3H689.6M615.0 2.9V10M615.0 555.8V547.4M538.7 2.9V10M538.7 555.8V547.4M462.5 2.9V10M462.5 555.8V547.4M386.2 2.9V10M386.2 555.8V547.4M310.0 2.9V10M310.0 555.8V547.4M233.8 2.9V10M233.8 555.8V547.4M157.5 2.9V10M157.5 555.8V547.4" stroke="#000" stroke-width="2.6" fill="none"/>
<line x1="551.2" y1="0" x2="551.2" y2="12" stroke="#002a8f" stroke-width="3"/>
<text x="73" y="41.6" font-family="Liberation Sans, sans-serif" fill="#000" stroke="#000" stroke-width="0.35" font-size="20" text-anchor="end">0</text>
<text x="70.5" y="172.2" font-family="Liberation Sans, sans-serif" fill="#000" stroke="#000" stroke-width="0.35" font-size="20" text-anchor="end">-40</text>
<text x="71.3" y="302.9" font-family="Liberation Sans, sans-serif" fill="#000" stroke="#000" stroke-width="0.35" font-size="20" text-anchor="end">-80</text>
<text x="69.5" y="433.5" font-family="Liberation Sans, sans-serif" fill="#000" stroke="#000" stroke-width="0.35" font-size="20" text-anchor="end">-120</text>
<text x="86.4" y="587.2" font-family="Liberation Sans, sans-serif" fill="#000" stroke="#000" stroke-width="0.35" font-size="20" text-anchor="middle">32</text>
<text x="236.4" y="587.2" font-family="Liberation Sans, sans-serif" fill="#000" stroke="#000" stroke-width="0.35" font-size="20" text-anchor="middle">24</text>
<text x="390.4" y="587.2" font-family="Liberation Sans, sans-serif" fill="#000" stroke="#000" stroke-width="0.35" font-size="20" text-anchor="middle">16</text>
<text x="543.1" y="587.2" font-family="Liberation Sans, sans-serif" fill="#000" stroke="#000" stroke-width="0.35" font-size="20" text-anchor="middle">8</text>
<text x="696" y="587.2" font-family="Liberation Sans, sans-serif" fill="#000" stroke="#000" stroke-width="0.35" font-size="20" text-anchor="middle">0</text>
<text x="387" y="624.4" font-family="Liberation Sans, sans-serif" fill="#000" stroke="#000" stroke-width="0.35" font-size="23" text-anchor="middle">Time (ka)</text>
<text transform="translate(16.2,266) rotate(-90)" font-family="Liberation Sans, sans-serif" fill="#000" stroke="#000" stroke-width="0.35" font-size="21" text-anchor="middle">Relative Sea Level (m)</text>
<text x="111.2" y="186" font-family="Liberation Sans, sans-serif" fill="#000" stroke="#000" stroke-width="0.45" font-size="13" text-anchor="middle">120</text>
<text x="198.5" y="186" font-family="Liberation Sans, sans-serif" fill="#000" stroke="#000" stroke-width="0.45" font-size="13" text-anchor="middle">90</text>
<text x="286.4" y="186" font-family="Liberation Sans, sans-serif" fill="#000" stroke="#000" stroke-width="0.45" font-size="13" text-anchor="middle">60</text>
<text x="374.2" y="186" font-family="Liberation Sans, sans-serif" fill="#000" stroke="#000" stroke-width="0.45" font-size="13" text-anchor="middle">30</text>
<text x="122" y="117.8" font-family="Liberation Sans, sans-serif" fill="#000" stroke="#000" stroke-width="0.45" font-size="13">-80</text>
<text x="122" y="158.5" font-family="Liberation Sans, sans-serif" fill="#000" stroke="#000" stroke-width="0.45" font-size="13">-120</text>
<text x="291.8" y="207.9" font-family="Liberation Sans, sans-serif" fill="#000" stroke="#000" stroke-width="0.45" font-size="16.6" text-anchor="middle">Time (ka)</text>
<text x="397.4" y="60.6" font-family="Liberation Sans, sans-serif" fill="#000" stroke="#000" stroke-width="0.45" font-size="20.5" font-weight="bold" text-anchor="middle">A</text>
<text x="657.5" y="60" font-family="Liberation Sans, sans-serif" fill="#000" stroke="#000" stroke-width="0.45" font-size="18.5" font-weight="bold" text-anchor="middle">B</text>
</svg></body></html>
